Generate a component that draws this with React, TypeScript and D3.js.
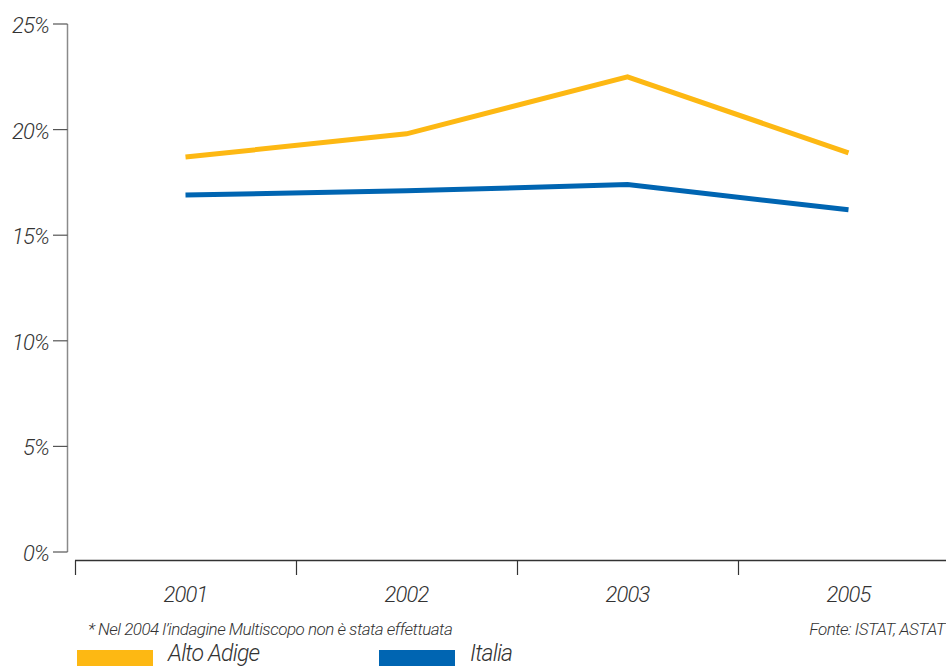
import React from "react";
import * as d3 from "d3";

const years = ["2001", "2002", "2003", "2005"];
const altoAdige = [18.7, 19.8, 22.5, 18.9];
const italia = [16.9, 17.1, 17.4, 16.2];
const yTicks = [0, 5, 10, 15, 20, 25];

const W = 946;
const H = 666;
const FONT = "Roboto, 'Liberation Sans', Arial, sans-serif";
const YELLOW = "#FDB813";
const BLUE = "#0065B2";
const TEXT = "#333333";

export default function App() {
  const x = d3.scaleBand<string>().domain(years).range([75, 959]);
  const y = d3.scaleLinear().domain([0, 25]).range([552, 24]);

  const line = d3
    .line<number>()
    .x((_, i) => (x(years[i]) as number) + x.bandwidth() / 2)
    .y((d) => y(d));

  const series = [
    { name: "Alto Adige", values: altoAdige, color: YELLOW },
    { name: "Italia", values: italia, color: BLUE },
  ];

  const labelStyle: React.CSSProperties = {
    fontFamily: FONT,
    fontStyle: "italic",
    fontWeight: 300,
  };

  return (
    <svg
      width={W}
      height={H}
      style={{ position: "absolute", left: 0, top: 0, background: "#fff" }}
    >
      {/* y axis */}
      <line x1={67.5} x2={67.5} y1={y(25)} y2={y(0)} stroke="#8a8a8a" strokeWidth={1.5} />
      {yTicks.map((t) => (
        <g key={t}>
          <line x1={53} x2={67.5} y1={y(t)} y2={y(t)} stroke="#555" strokeWidth={1.2} />
          <text
            x={49}
            y={y(t) + 9}
            textAnchor="end"
            fontSize={22}
            fill={TEXT}
            letterSpacing={-0.8}
            style={labelStyle}
          >
            {t}%
          </text>
        </g>
      ))}

      {/* x axis */}
      <line x1={75} x2={W} y1={560.5} y2={560.5} stroke="#333" strokeWidth={1.5} />
      {years.map((yr) => (
        <g key={yr}>
          <line
            x1={(x(yr) as number) + 0.5}
            x2={(x(yr) as number) + 0.5}
            y1={560.5}
            y2={575}
            stroke="#333"
            strokeWidth={1.2}
          />
          <text
            x={(x(yr) as number) + x.bandwidth() / 2}
            y={602}
            textAnchor="middle"
            fontSize={22}
            fill={TEXT}
            letterSpacing={-0.8}
            style={labelStyle}
          >
            {yr}
          </text>
        </g>
      ))}

      {/* series lines */}
      {series.map((s) => (
        <path
          key={s.name}
          d={line(s.values) ?? ""}
          fill="none"
          stroke={s.color}
          strokeWidth={5}
          strokeLinejoin="miter"
        />
      ))}

      {/* notes */}
      <text x={88} y={635} fontSize={17} fill={TEXT} letterSpacing={-0.5} style={labelStyle}>
        * Nel 2004 l’indagine Multiscopo non è stata effettuata
      </text>
      <text
        x={945}
        y={635}
        textAnchor="end"
        fontSize={17}
        fill={TEXT}
        letterSpacing={-0.5}
        style={labelStyle}
      >
        Fonte: ISTAT, ASTAT
      </text>

      {/* legend */}
      {series.map((s, i) => {
        const lx = i === 0 ? 77 : 379;
        return (
          <g key={s.name}>
            <rect x={lx} y={650} width={76} height={20} fill={s.color} />
            <text
              x={lx + 91}
              y={661}
              fontSize={23}
              fill={TEXT}
              letterSpacing={-0.8}
              style={labelStyle}
            >
              {s.name}
            </text>
          </g>
        );
      })}
    </svg>
  );
}
